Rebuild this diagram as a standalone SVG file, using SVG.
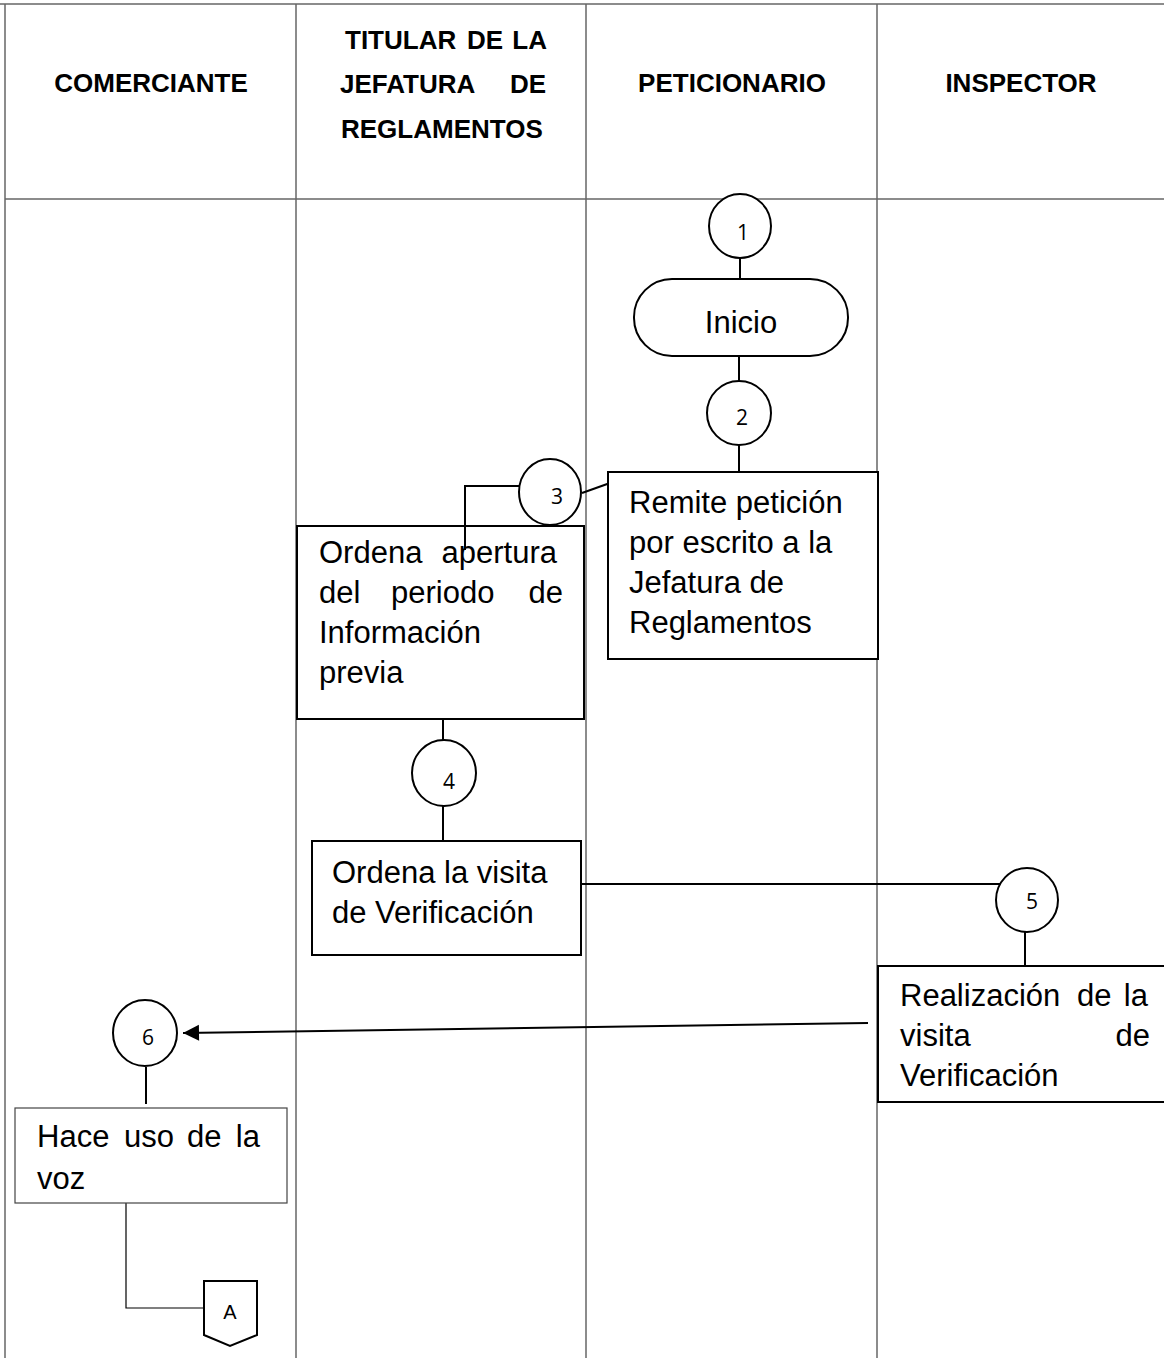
<svg xmlns="http://www.w3.org/2000/svg" width="1164" height="1358" viewBox="0 0 1164 1358">
<defs>
<style>
.grid{stroke:#666;stroke-width:1.5;fill:none}
.hdr{font-family:"Liberation Sans",Arial,sans-serif;font-weight:bold;font-size:26px;fill:#000}
.body{font-family:"Liberation Sans",Arial,sans-serif;font-size:31px;fill:#000}
.num{font-family:"Open Sans","Liberation Sans",sans-serif;font-size:21px;fill:#000;text-anchor:middle}
.shape{fill:#fff;stroke:#000;stroke-width:2}
.conn{stroke:#000;stroke-width:2;fill:none}
</style>
<marker id="arr" markerUnits="userSpaceOnUse" markerWidth="18" markerHeight="18" viewBox="0 0 18 18" refX="17" refY="9" orient="auto">
<path d="M17,9 L1,1 L1,17 Z" fill="#000"/>
</marker>
</defs>
<rect width="1164" height="1358" fill="#fff"/>
<g id="lanes">
<line class="grid" x1="0" y1="4" x2="1164" y2="4"/>
<line class="grid" x1="5" y1="199" x2="1164" y2="199"/>
<line class="grid" x1="5" y1="4" x2="5" y2="1358"/>
<line class="grid" x1="296" y1="4" x2="296" y2="1358"/>
<line class="grid" x1="586" y1="4" x2="586" y2="1358"/>
<line class="grid" x1="877" y1="4" x2="877" y2="1358"/>
<text class="hdr" x="151" y="92" text-anchor="middle">COMERCIANTE</text>
<text class="hdr" y="49"><tspan x="345">TITULAR</tspan><tspan x="467">DE</tspan><tspan x="547" text-anchor="end">LA</tspan></text>
<text class="hdr" y="93"><tspan x="340">JEFATURA</tspan><tspan x="546" text-anchor="end">DE</tspan></text>
<text class="hdr" x="341" y="138">REGLAMENTOS</text>
<text class="hdr" x="732" y="92" text-anchor="middle">PETICIONARIO</text>
<text class="hdr" x="1021" y="92" text-anchor="middle">INSPECTOR</text>
</g>
<g id="connectors">
<line class="conn" x1="740" y1="258" x2="740" y2="279"/>
<line class="conn" x1="739" y1="356" x2="739" y2="381"/>
<line class="conn" x1="739" y1="445" x2="739" y2="472"/>
<line class="conn" x1="582" y1="493" x2="610" y2="483"/>
<polyline class="conn" points="519,486 465,486 465,526"/>
<line class="conn" x1="443" y1="720" x2="443" y2="740"/>
<line class="conn" x1="443" y1="805" x2="443" y2="841"/>
<line class="conn" x1="581" y1="884" x2="1000" y2="884"/>
<line class="conn" x1="1025" y1="932" x2="1025" y2="966"/>
<line class="conn" x1="868" y1="1023" x2="183" y2="1033" marker-end="url(#arr)"/>
<line class="conn" x1="146" y1="1067" x2="146" y2="1104"/>
<polyline points="126,1203 126,1308 205,1308" fill="none" stroke="#000" stroke-width="1.2"/>
</g>
<g id="n1">
<ellipse class="shape" cx="740" cy="226" rx="31" ry="32"/>
<text class="num" x="743" y="240">1</text>
</g>
<g id="inicio">
<rect class="shape" x="634" y="279" width="214" height="77" rx="38" ry="38"/>
<text class="body" x="741" y="333" text-anchor="middle">Inicio</text>
</g>
<g id="n2">
<ellipse class="shape" cx="739" cy="413" rx="32" ry="32"/>
<text class="num" x="742" y="425">2</text>
</g>
<g id="remite">
<rect class="shape" x="608" y="472" width="270" height="187"/>
<text class="body" x="629" y="513">Remite petición</text>
<text class="body" x="629" y="553">por escrito a la</text>
<text class="body" x="629" y="593">Jefatura de</text>
<text class="body" x="629" y="633">Reglamentos</text>
</g>
<g id="n3">
<ellipse class="shape" cx="550" cy="492" rx="31" ry="33"/>
<text class="num" x="557" y="504">3</text>
</g>
<g id="ordena-apertura">
<rect class="shape" x="297" y="526" width="287" height="193"/>
<text class="body" y="563"><tspan x="319">Ordena</tspan><tspan x="557" text-anchor="end">apertura</tspan></text>
<text class="body" y="603"><tspan x="319">del</tspan><tspan x="391">periodo</tspan><tspan x="563" text-anchor="end">de</tspan></text>
<text class="body" x="319" y="643">Información</text>
<text class="body" x="319" y="683">previa</text>
</g>
<line class="conn" x1="465" y1="526" x2="465" y2="550"/>
<g id="n4">
<ellipse class="shape" cx="444" cy="773" rx="32" ry="33"/>
<text class="num" x="449" y="789">4</text>
</g>
<g id="ordena-visita">
<rect class="shape" x="312" y="841" width="269" height="114"/>
<text class="body" x="332" y="883">Ordena la visita</text>
<text class="body" x="332" y="923">de Verificación</text>
</g>
<g id="n5">
<ellipse class="shape" cx="1027" cy="900" rx="31" ry="32"/>
<text class="num" x="1032" y="909">5</text>
</g>
<g id="realizacion">
<rect class="shape" x="878" y="966" width="300" height="136"/>
<text class="body" y="1006"><tspan x="900">Realización</tspan><tspan x="1077">de</tspan><tspan x="1148" text-anchor="end">la</tspan></text>
<text class="body" x="900" y="1046">visita</text>
<text class="body" x="1150" y="1046" text-anchor="end">de</text>
<text class="body" x="900" y="1086">Verificación</text>
</g>
<g id="n6">
<ellipse class="shape" cx="145" cy="1033" rx="32" ry="33"/>
<text class="num" x="148" y="1045">6</text>
</g>
<g id="hace-uso">
<rect x="15" y="1108" width="272" height="95" fill="#fff" stroke="#444" stroke-width="1.2"/>
<text class="body" y="1147"><tspan x="37">Hace</tspan><tspan x="124">uso</tspan><tspan x="187">de</tspan><tspan x="260" text-anchor="end">la</tspan></text>
<text class="body" x="37" y="1189">voz</text>
</g>
<g id="conector-A">
<path class="shape" d="M204,1281 L257,1281 L257,1335 L230,1346 L204,1335 Z"/>
<text class="num" x="230" y="1319" style="font-family:'Liberation Sans',sans-serif;font-size:20px">A</text>
</g>
</svg>
